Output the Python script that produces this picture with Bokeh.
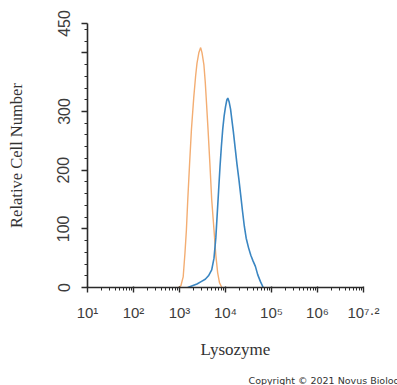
import math
from bokeh.plotting import figure
from bokeh.models import FixedTicker, Title
from bokeh.embed import file_html
from bokeh.resources import INLINE

# ---- data (log10 fluorescence intensity, relative cell number) ----
control_log = [2.98, 3.03, 3.08, 3.12, 3.15, 3.18, 3.22, 3.26, 3.31, 3.35, 3.38, 3.42,
               3.46, 3.49, 3.53, 3.56, 3.58, 3.62, 3.66, 3.70, 3.75, 3.79, 3.83, 3.87, 3.92]
control_count = [0, 3, 18, 60, 98, 150, 212, 270, 324, 360, 382, 400,
                 409, 400, 380, 350, 324, 270, 212, 150, 98, 55, 25, 8, 0]

lysozyme_log = [3.18, 3.28, 3.38, 3.47, 3.56, 3.63, 3.70, 3.75, 3.79, 3.82, 3.85, 3.88,
                3.91, 3.94, 3.97, 4.00, 4.03, 4.05, 4.08, 4.11, 4.14, 4.17, 4.21, 4.25,
                4.29, 4.33, 4.37, 4.41, 4.45, 4.50, 4.55, 4.60, 4.65, 4.70, 4.76, 4.82]
lysozyme_count = [0, 3, 6, 10, 14, 20, 30, 50, 85, 125, 165, 205,
                  240, 270, 292, 308, 320, 323, 316, 304, 285, 266, 238, 210,
                  185, 158, 130, 104, 84, 68, 55, 45, 36, 22, 10, 0]

x_tick_pos = [1, 2, 3, 4, 5, 6, 7]
x_tick_labels = ["10\u00b9", "10\u00b2", "10\u00b3", "10\u2074", "10\u2075", "10\u2076", "10\u2077\u00b7\u00b2"]
y_ticks = [0, 100, 200, 300, 400, 450]
y_tick_labels = {0: "0", 100: "100", 200: "200", 300: "300", 400: "", 450: "450"}

p = figure(width=397, height=385, x_range=(1, 7), y_range=(0, 450),
           output_backend="svg", toolbar_location=None,
           min_border_left=87, min_border_right=34, min_border_top=23, min_border_bottom=97)
p.outline_line_color = None
p.grid.visible = False

p.line(control_log, control_count, line_color="#f3ad72", line_width=1.4)
p.line(lysozyme_log, lysozyme_count, line_color="#3a86c2", line_width=1.6)

AX = "#2a2a2a"
LBL = "#3c3c3c"

# x axis
xa = p.xaxis[0]
minor_x = [d + math.log10(k) for d in range(1, 7) for k in range(2, 10)]
xa.ticker = FixedTicker(ticks=x_tick_pos, minor_ticks=minor_x)
xa.major_label_overrides = {t: s for t, s in zip(x_tick_pos, x_tick_labels)}
xa.major_label_text_font = "Liberation Sans"
xa.major_label_text_font_size = "15px"
xa.major_label_text_color = LBL
xa.major_label_standoff = 11
xa.axis_line_color = AX
xa.axis_line_width = 1.6
xa.major_tick_line_color = AX
xa.minor_tick_line_color = AX
xa.major_tick_out = 5
xa.major_tick_in = 1
xa.minor_tick_out = 3
xa.minor_tick_in = 0
xa.major_tick_line_width = 1.4

# y axis
ya = p.yaxis[0]
minor_y = [v for v in range(0, 450, 20)]
ya.ticker = FixedTicker(ticks=y_ticks, minor_ticks=minor_y)
ya.major_label_overrides = y_tick_labels
ya.major_label_orientation = "vertical"
ya.major_label_text_font = "Liberation Sans"
ya.major_label_text_font_size = "16px"
ya.major_label_text_color = LBL
ya.major_label_standoff = 12
ya.axis_label = "Relative Cell Number"
ya.axis_label_text_font = "Liberation Serif"
ya.axis_label_text_font_style = "normal"
ya.axis_label_text_font_size = "16.5px"
ya.axis_label_text_color = "#333333"
ya.axis_label_standoff = 29
ya.axis_line_color = AX
ya.axis_line_width = 1.6
ya.major_tick_line_color = AX
ya.minor_tick_line_color = AX
ya.major_tick_out = 6
ya.major_tick_in = 0
ya.minor_tick_out = 3
ya.minor_tick_in = 0
ya.major_tick_line_width = 1.4

# x axis title and copyright line
p.add_layout(Title(text="Lysozyme", align="left", offset=113,
                   text_font="Liberation Serif", text_font_size="17px", text_font_style="normal",
                   text_color="#333333", standoff=28), "below")
p.add_layout(Title(text="Copyright \u00a9 2021 Novus Biologicals", align="left", offset=161,
                   text_font="DejaVu Sans", text_font_size="9.5px", text_font_style="normal",
                   text_color="#333333", standoff=0, text_line_height=0.6), "below")

open("out.html", "w").write(file_html(p, INLINE))
